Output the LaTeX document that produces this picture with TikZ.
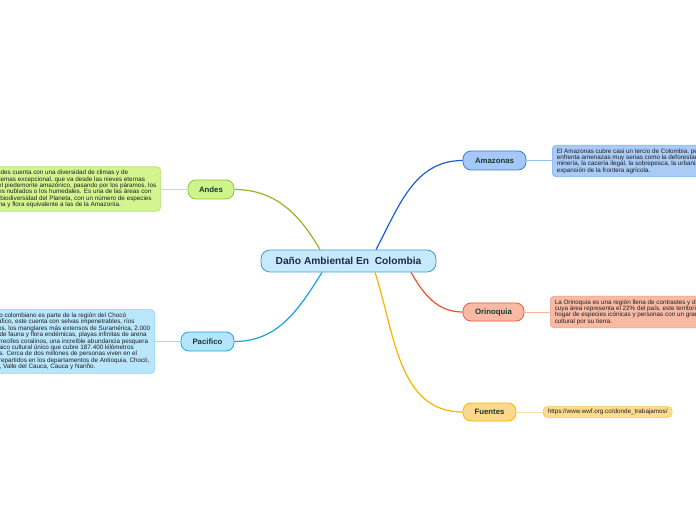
\documentclass[tikz,border=0pt]{standalone}
\usepackage{fontspec}
\setmainfont{Liberation Sans}
\usepackage{xcolor}

\definecolor{danofill}{HTML}{C7EAFB}
\definecolor{danoline}{HTML}{3B9BDB}
\definecolor{danotext}{HTML}{1B2A57}
\definecolor{topictext}{HTML}{173A2C}
\definecolor{notetext}{HTML}{1E1E1E}
\definecolor{andesfill}{HTML}{CFF58A}
\definecolor{andesline}{HTML}{8CC63F}
\definecolor{andesbranch}{HTML}{8DBA1E}
\definecolor{andesnote}{HTML}{D2F590}
\definecolor{andesnoteline}{HTML}{B8E070}
\definecolor{andestwig}{HTML}{C5E3A5}
\definecolor{pacificofill}{HTML}{B3E5FC}
\definecolor{pacificoline}{HTML}{1EA5E3}
\definecolor{pacificobranch}{HTML}{1BA1E2}
\definecolor{pacificonote}{HTML}{BAE6FB}
\definecolor{pacificonoteline}{HTML}{8FD0F2}
\definecolor{pacificotwig}{HTML}{9ED8F5}
\definecolor{amazonasfill}{HTML}{A6C8F8}
\definecolor{amazonasline}{HTML}{3A78DF}
\definecolor{amazonasbranch}{HTML}{1B5FD6}
\definecolor{amazonasnote}{HTML}{A9CBF6}
\definecolor{amazonasnoteline}{HTML}{7FADEA}
\definecolor{amazonastwig}{HTML}{9ABFF0}
\definecolor{orinofill}{HTML}{F9BAA5}
\definecolor{orinoline}{HTML}{EE5A3A}
\definecolor{orinobranch}{HTML}{F04E2B}
\definecolor{orinonote}{HTML}{F8BAA4}
\definecolor{orinonoteline}{HTML}{EBA189}
\definecolor{orinotwig}{HTML}{F6B6A0}
\definecolor{fuentesfill}{HTML}{FED98C}
\definecolor{fuentesline}{HTML}{F5B700}
\definecolor{fuentesbranch}{HTML}{F7B500}
\definecolor{fuentesnote}{HTML}{FEDC8E}
\definecolor{fuentesnoteline}{HTML}{F3C75A}
\definecolor{fuentestwig}{HTML}{FBE2A8}

\begin{document}
\begin{tikzpicture}[x=1pt, y=1pt,
    topic/.style={draw, rounded corners=8pt, line width=0.8pt, minimum height=19pt, inner sep=0pt,
        font=\fontsize{7.8}{9}\selectfont\bfseries, text=topictext},
    note/.style={draw, rounded corners=4pt, line width=0.6pt, align=left, inner xsep=4.5pt, inner ysep=3.3pt,
        font=\fontsize{6.3}{6.4}\selectfont, text=notetext},
    branch/.style={line width=1.2pt},
    twig/.style={line width=0.8pt}]
    \useasboundingbox (0,0) rectangle (696,520);
    \clip (0,0) rectangle (696,520);
    % Central topic
    \node[draw=danoline, fill=danofill, rounded corners=9pt, line width=0.8pt, minimum width=175pt, minimum height=22pt,
        font=\fontsize{10.2}{12}\selectfont\bfseries, text=danotext] (dano) at (348.5,259) {Daño Ambiental En\ \ Colombia};
    % Main topics
    \node[topic, fill=andesfill, draw=andesline, minimum width=46pt] (andes) at (211,330.5) {Andes};
    \node[topic, fill=pacificofill, draw=pacificoline, minimum width=53pt] (pacifico) at (207.5,178.5) {Pacifico};
    \node[topic, fill=amazonasfill, draw=amazonasline, minimum width=63pt] (amazonas) at (494.5,359.5) {Amazonas};
    \node[topic, fill=orinofill, draw=orinoline, minimum width=61pt, minimum height=18pt] (orinoquia) at (493.5,208) {Orinoquia};
    \node[topic, fill=fuentesfill, draw=fuentesline, minimum width=53pt, minimum height=18pt] (fuentes) at (489.5,108) {Fuentes};
    % Notes
    \node[note, fill=andesnote, draw=andesnoteline, anchor=east] (andestxt) at (161,331) {Los Andes cuenta con una diversidad de climas y de\\
        ecosistemas excepcional, que va desde las nieves eternas\\
        hasta el piedemonte amazónico, pasando por los páramos, los\\
        bosques nublados o los humedales. Es una de las áreas con\\
        mayor biodiversidad del Planeta, con un número de especies\\
        de fauna y flora equivalente a las de la Amazonía.};
    \node[note, fill=pacificonote, draw=pacificonoteline, anchor=east] (pacificotxt) at (155,178.5) {El Pacífico colombiano es parte de la región del Chocó\\
        Biogeográfico, este cuenta con selvas impenetrables, ríos\\
        caudalosos, los manglares más extensos de Suramérica, 2.000\\
        especies de fauna y flora endémicas, playas infinitas de arena\\
        blanca, arrecifes coralinos, una increíble abundancia pesquera\\
        y un mosaico cultural único que cubre 187.400 kilómetros\\
        cuadrados. Cerca de dos millones de personas viven en el\\
        Pacífico, repartidos en los departamentos de Antioquia, Chocó,\\
        Risaralda, Valle del Cauca, Cauca y Nariño.};
    \node[note, fill=amazonasnote, draw=amazonasnoteline, anchor=west] (amazonastxt) at (552,359) {El Amazonas cubre casi un tercio de Colombia, pero\\
        enfrenta amenazas muy serias como la deforestación, la\\
        minería, la cacería ilegal, la sobrepesca, la urbanización y la\\
        expansión de la frontera agrícola.};
    \node[note, fill=orinonote, draw=orinonoteline, anchor=west] (orinoquiatxt) at (550,208) {La Orinoquia es una región llena de contrastes y diversidad,\\
        cuya área representa el 22\% del país, este territorio es\\
        hogar de especies icónicas y personas con un gran legado\\
        cultural por su tierra.};
    \node[note, fill=fuentesnote, draw=fuentesnoteline, anchor=west, inner ysep=2.5pt] (fuentestxt) at (543,108) {https://www.wwf.org.co/donde\_trabajamos/};
    % Branches
    \draw[branch, andesbranch] ([xshift=-28.5pt]dano.north) to[out=120, in=0] (andes.east);
    \draw[branch, amazonasbranch] ([xshift=27.5pt]dano.north) to[out=62, in=180] (amazonas.west);
    \draw[branch, pacificobranch] ([xshift=-26.5pt]dano.south) to[out=-122, in=0] (pacifico.east);
    \draw[branch, orinobranch] ([xshift=62.5pt]dano.south) to[out=-60, in=180] (orinoquia.west);
    \draw[branch, fuentesbranch] ([xshift=26.5pt]dano.south) to[out=-72, in=180] (fuentes.west);
    % Topic to note
    \draw[twig, andestwig] (andes.west) -- (andestxt.east |- andes.west);
    \draw[twig, pacificotwig] (pacifico.west) -- (pacificotxt.east);
    \draw[twig, amazonastwig] (amazonas.east) -- (amazonastxt.west |- amazonas.east);
    \draw[twig, orinotwig] (orinoquia.east) -- (orinoquiatxt.west);
    \draw[twig, fuentestwig] (fuentes.east) -- (fuentestxt.west);
\end{tikzpicture}
\end{document}
